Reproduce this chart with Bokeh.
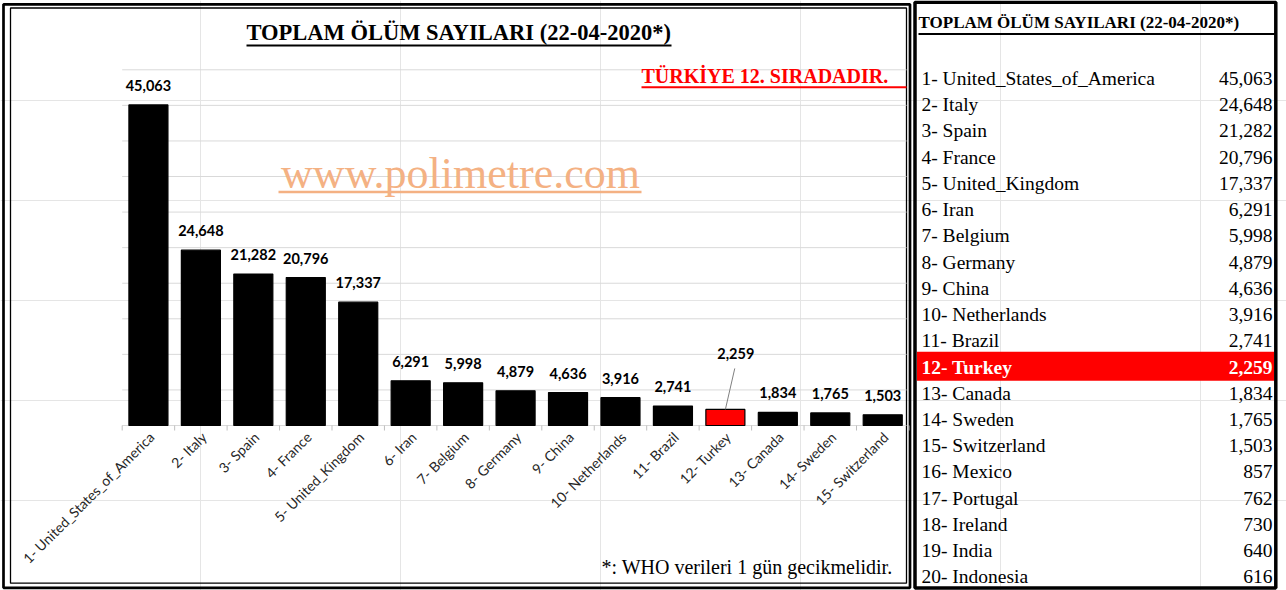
import math
from bokeh.plotting import figure
from bokeh.models import Range1d, ColumnDataSource
from bokeh.core.properties import value
from bokeh.embed import file_html
from bokeh.resources import INLINE

# ---------------- data ----------------
countries = ["United_States_of_America", "Italy", "Spain", "France", "United_Kingdom",
             "Iran", "Belgium", "Germany", "China", "Netherlands", "Brazil", "Turkey",
             "Canada", "Sweden", "Switzerland", "Mexico", "Portugal", "Ireland", "India",
             "Indonesia"]
deaths = [45063, 24648, 21282, 20796, 17337, 6291, 5998, 4879, 4636, 3916, 2741, 2259,
          1834, 1765, 1503, 857, 762, 730, 640, 616]
highlight_country = "Turkey"
chart_count = 15
grid_ticks = [0, 5000, 10000, 15000, 20000, 25000, 30000, 35000, 40000, 45000, 50000]

chart_title = "TOPLAM ÖLÜM SAYILARI  (22-04-2020*)"
table_title = "TOPLAM ÖLÜM SAYILARI (22-04-2020*)"
note_text = "TÜRKİYE 12. SIRADADIR."
watermark_text = "www.polimetre.com"
footnote_text = "*: WHO verileri  1 gün  gecikmelidir."

ranked = [f"{i + 1}- {c}" for i, c in enumerate(countries)]
formatted = [f"{v:,}" for v in deaths]
hi = countries.index(highlight_country)

SERIF = "Liberation Serif"
SANS = "Lato"
W, H = 1286, 590

# ---------------- scales (layout constants) ----------------
CAT_PX0, CAT_W = 121.7, 52.45          # pixel of first category boundary, px per category
VAL_PX0, VAL_PX = 425.0, 355.7 / 50000  # pixel of zero, px per unit
ROW_PX1, ROW_H = 85.3, 26.23            # baseline pixel of row 1, px per row

cat_start = -0.5 - CAT_PX0 / CAT_W
cat_end = cat_start + W / CAT_W
val_lo = -(H - VAL_PX0) / VAL_PX
val_hi = VAL_PX0 / VAL_PX
row_top = 1 - ROW_PX1 / ROW_H
row_bot = 1 + (H - ROW_PX1) / ROW_H


def cat_of(px):
    return cat_start + px / CAT_W


p = figure(width=W, height=H, x_range=Range1d(0, W), y_range=Range1d(H, 0),
           min_border=0, x_axis_location=None, y_axis_location=None,
           output_backend="svg", toolbar_location=None)
p.extra_x_ranges = {"cat": Range1d(cat_start, cat_end)}
p.extra_y_ranges = {"val": Range1d(val_lo, val_hi), "row": Range1d(row_bot, row_top)}
p.outline_line_color = None
p.background_fill_color = "white"
p.border_fill_color = "white"

C = dict(x_range_name="cat", y_range_name="val")

# ---------------- panel frames ----------------
p.quad(left=[3], right=[909.5], top=[3.8], bottom=[587.3], fill_color=None,
       line_color="black", line_width=2.7)
p.quad(left=[10], right=[906], top=[7.5], bottom=[582.7], fill_color=None,
       line_color="black", line_width=1.3)
p.quad(left=[914.5], right=[1275.3], top=[1.8], bottom=[587.5], fill_color=None,
       line_color="black", line_width=3.5)

# ---------------- left chart ----------------
xs = list(range(chart_count))
vals = deaths[:chart_count]

# grid lines
p.segment(x0=[-0.5] * len(grid_ticks), x1=[cat_of(906)] * len(grid_ticks),
          y0=grid_ticks, y1=grid_ticks, line_color="#d9d9d9", line_width=1, **C)
# category boundary ticks
bounds = [i - 0.5 for i in range(chart_count + 1)]
p.segment(x0=bounds, x1=bounds, y0=[0] * len(bounds), y1=[-5 / VAL_PX] * len(bounds),
          line_color="#bfbfbf", line_width=1, **C)

colors = ["#ff0000" if i == hi else "#000000" for i in xs]
bars = ColumnDataSource(dict(x=xs, top=vals, color=colors))
p.vbar(x="x", top="top", bottom=0, width=0.744, source=bars, fill_color="color",
       line_color="black", line_width=1.2, **C)

norm = [i for i in xs if i != hi]
lab_src = ColumnDataSource(dict(x=norm, y=[vals[i] for i in norm],
                                t=[formatted[i] for i in norm]))
p.text(x="x", y="y", text="t", source=lab_src, text_align="center",
       text_baseline="middle", y_offset=-19.5, text_font=value(SANS),
       text_font_style="bold", text_font_size="14.5px", text_color="#000000", **C)

hi_src = ColumnDataSource(dict(x=[hi], y=[vals[hi]], t=[formatted[hi]]))
p.text(x="x", y="y", text="t", source=hi_src, text_align="center",
       text_baseline="middle", x_offset=10.4, y_offset=-55.5, text_font=value(SANS),
       text_font_style="bold", text_font_size="14.5px", text_color="#000000", **C)
p.segment(x0=[hi], y0=[vals[hi]], x1=[hi + 9.4 / CAT_W], y1=[vals[hi] + 41 / VAL_PX],
          line_color="#808080", line_width=1, **C)

# category labels (rotated)
cat_src = ColumnDataSource(dict(x=xs, y=[0] * chart_count, t=ranked[:chart_count]))
p.text(x="x", y="y", text="t", source=cat_src, angle=math.pi / 4, text_align="right",
       text_baseline="middle", x_offset=3, y_offset=9, text_font=value(SANS),
       text_font_size="14px", text_color="#262626", **C)

# title
p.text(x=[461], y=[31.5], text=[chart_title], text_align="center",
       text_baseline="middle", text_font=value(SERIF), text_font_style="bold",
       text_font_size="22.5px", text_color="#000000")
p.segment(x0=[246], y0=[45], x1=[671], y1=[45], line_color="black", line_width=2)

# red note
p.text(x=[641], y=[75.5], text=[note_text], text_align="left",
       text_baseline="middle", text_font=value(SERIF), text_font_style="bold",
       text_font_size="20px", text_color="#ff0000")
p.segment(x0=[641], y0=[86.8], x1=[906], y1=[86.8], line_color="#ff0000", line_width=2)

# watermark
p.text(x=[460], y=[172.5], text=[watermark_text], text_align="center",
       text_baseline="middle", text_font=value(SERIF), text_font_size="44px",
       text_color="#f4b183")
p.segment(x0=[278], y0=[191.5], x1=[641], y1=[191.5], line_color="#f4b183",
          line_width=2.5)

# footnote
p.text(x=[902], y=[566.5], text=[footnote_text], text_align="right",
       text_baseline="middle", text_font=value(SERIF), text_font_size="20px",
       text_color="#000000")

# ---------------- right table ----------------
R = dict(y_range_name="row")
ranks = list(range(1, len(countries) + 1))
ROW_TXT_OFF = -7.3

p.quad(left=[916.5], right=[1273.5], top=[ranks[hi] - 22.7 / ROW_H],
       bottom=[ranks[hi] + 6.3 / ROW_H], fill_color="#ff0000", line_color=None, **R)

rows_n = [i for i in range(len(countries)) if i != hi]
tsrc = ColumnDataSource(dict(y=[ranks[i] for i in rows_n], name=[ranked[i] for i in rows_n],
                             val=[formatted[i] for i in rows_n]))
p.text(x=921, y="y", text="name", source=tsrc, text_align="left",
       text_baseline="middle", y_offset=ROW_TXT_OFF, text_font=value(SERIF),
       text_font_size="19.5px", text_color="#000000", **R)
p.text(x=1272, y="y", text="val", source=tsrc, text_align="right",
       text_baseline="middle", y_offset=ROW_TXT_OFF, text_font=value(SERIF),
       text_font_size="19.5px", text_color="#000000", **R)
hsrc = ColumnDataSource(dict(y=[ranks[hi]], name=[ranked[hi]], val=[formatted[hi]]))
p.text(x=921, y="y", text="name", source=hsrc, text_align="left",
       text_baseline="middle", y_offset=ROW_TXT_OFF, text_font=value(SERIF),
       text_font_style="bold", text_font_size="19.5px", text_color="#ffffff", **R)
p.text(x=1272, y="y", text="val", source=hsrc, text_align="right",
       text_baseline="middle", y_offset=ROW_TXT_OFF, text_font=value(SERIF),
       text_font_style="bold", text_font_size="19.5px", text_color="#ffffff", **R)

p.text(x=[918], y=[22], text=[table_title], text_align="left",
       text_baseline="middle", text_font=value(SERIF), text_font_style="bold",
       text_font_size="17px", text_color="#000000")
p.segment(x0=[918], y0=[33.5], x1=[1275], y1=[33.5], line_color="black", line_width=2)

open("out.html", "w").write(file_html(p, INLINE))
